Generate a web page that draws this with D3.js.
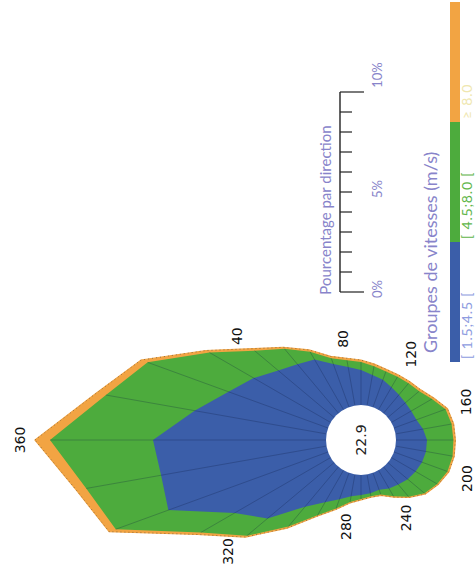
<!DOCTYPE html>
<html>
<head>
<meta charset="utf-8">
<script src="https://cdn.jsdelivr.net/npm/d3@7"></script>
<style>
  html, body { margin: 0; padding: 0; background: #fff; }
  svg { display: block; }
</style>
</head>
<body>
<svg id="chart" width="475" height="569"></svg>
<script>
// Wind rose: share of time (%) per 10° direction sector, stacked by speed group
const directions = [0,10,20,30,40,50,60,70,80,90,100,110,120,130,140,150,160,170,
                    180,190,200,210,220,230,240,250,260,270,280,290,300,310,320,330,340,350];

const speedGroups = ["[ 1.5;4.5 [", "[ 4.5;8.0 [", "≥ 8.0"];

const low = [8.65,6.7,5.3,4.45,3.65,3.2,2.9,2.3,1.95,1.75,1.55,1.45,1.3,1.2,1.15,1.15,1.2,1.4,
             1.55,1.55,1.5,1.4,1.3,1.15,1.05,0.9,0.95,1.0,1.1,1.4,1.85,2.6,4.35,5.55,8.5,8.4];
const mid = [5.15,4.5,4.3,2.55,1.55,1.0,0.45,0.3,0.35,0.4,0.45,0.45,0.6,0.75,0.9,1.2,1.55,1.45,
             1.32,1.35,1.35,1.25,1.1,0.8,0.45,0.25,0.15,0.2,0.3,0.5,0.75,1.3,1.35,1.95,2.8,3.8];
const high = [0.75,0.5,0.35,0.2,0.15,0.1,0.1,0.1,0.1,0.1,0.1,0.1,0.1,0.1,0.1,0.1,0.1,0.1,
              0.1,0.08,0.07,0.05,0.05,0.05,0.05,0.05,0.05,0.05,0.05,0.05,0.05,0.1,0.1,0.2,0.35,0.5];

const calm = 22.9;
const directionLabels = [40, 80, 120, 160, 200, 240, 280, 320, 360];
const scaleTicks = [0,1,2,3,4,5,6,7,8,9,10];
const scaleTickLabels = [0, 5, 10];

const colors = ["#3b5ea9", "#4dab3d", "#f2a443"];
const labelColors = ["#8e9ce0", "#5fb64a", "#efe7b0"];
const textColor = "#8884ca";

// ---------------------------------------------------------------
const W = 475, H = 569;
const svg = d3.select("#chart");
svg.append("rect").attr("width", W).attr("height", H).attr("fill", "#fff");

// the figure is laid out in landscape and turned a quarter turn
const g = svg.append("g").attr("transform", `translate(0,${H}) rotate(-90)`);

const cx = 129, cy = 361;
const hole = 35;
const r = d3.scaleLinear().domain([0, 10]).range([hole, hole + 200]);

// cumulative stacks
const stack = directions.map((d, i) => {
  const a = low[i], b = a + mid[i], c = b + high[i];
  return { dir: d, cum: [a, b, c] };
});

const rose = g.append("g").attr("transform", `translate(${cx},${cy})`);
const rad = d => d * Math.PI / 180;

const line = k => d3.lineRadial()
  .angle(d => rad(d.dir))
  .radius(d => r(d.cum[k]))
  .curve(d3.curveLinearClosed);

// largest layer first so the smaller ones sit on top
[2, 1, 0].forEach(k => {
  rose.append("path")
    .datum(stack)
    .attr("d", line(k))
    .attr("fill", colors[k])
    .attr("stroke", k === 2 ? colors[2] : "none")
    .attr("stroke-width", 1.2)
    .attr("stroke-linejoin", "miter");
});

// dotted outline along the outer edge
rose.append("path")
  .datum(stack)
  .attr("d", line(2))
  .attr("fill", "none")
  .attr("stroke", "#2a2a2a")
  .attr("stroke-width", 0.9)
  .attr("stroke-dasharray", "1,3")
  .attr("opacity", 0.5);

// sector spokes
rose.selectAll("line.spoke")
  .data(stack)
  .join("line")
  .attr("class", "spoke")
  .attr("x1", d => hole * Math.sin(rad(d.dir)))
  .attr("y1", d => -hole * Math.cos(rad(d.dir)))
  .attr("x2", d => r(d.cum[1]) * Math.sin(rad(d.dir)))
  .attr("y2", d => -r(d.cum[1]) * Math.cos(rad(d.dir)))
  .attr("stroke", "#0d1a40")
  .attr("stroke-width", 0.8)
  .attr("opacity", 0.32);

// calm circle
rose.append("circle").attr("r", hole).attr("fill", "#fff");
rose.append("text")
  .attr("text-anchor", "middle")
  .attr("dominant-baseline", "central")
  .attr("font-family", "DejaVu Sans, sans-serif")
  .attr("font-size", 14)
  .attr("fill", "#222")
  .text(calm.toFixed(1));

// direction labels just outside the rose
const totalAt = deg => stack.find(d => d.dir === deg % 360).cum[2];
rose.selectAll("text.dir")
  .data(directionLabels)
  .join("text")
  .attr("class", "dir")
  .attr("text-anchor", "middle")
  .attr("dominant-baseline", "central")
  .attr("font-family", "DejaVu Sans, sans-serif")
  .attr("font-size", 14)
  .attr("fill", "#111")
  .text(d => d)
  .each(function (d) {
    const a = rad(d);
    const ux = Math.sin(a), uy = -Math.cos(a);
    const w = String(d).length * 8.9, h = 10;
    const R = r(totalAt(d)) + 10 + Math.abs(ux) * w / 2 + Math.abs(uy) * h / 2;
    d3.select(this).attr("x", R * ux).attr("y", R * uy);
  });

// percentage scale bar
const s = d3.scaleLinear().domain([0, 10]).range([277, 477]);
const sb = g.append("g");
sb.append("line")
  .attr("x1", s(0)).attr("x2", s(10)).attr("y1", 340).attr("y2", 340)
  .attr("stroke", "#222").attr("stroke-width", 1.4);
sb.selectAll("line.tk")
  .data(scaleTicks)
  .join("line")
  .attr("class", "tk")
  .attr("x1", d => s(d)).attr("x2", d => s(d))
  .attr("y1", 340)
  .attr("y2", d => (d === 0 || d === 10) ? 364 : 352)
  .attr("stroke", "#222").attr("stroke-width", 1.2);
sb.selectAll("text.tl")
  .data(scaleTickLabels)
  .join("text")
  .attr("class", "tl")
  .attr("x", d => s(d) + (d === 10 ? 17 : 3))
  .attr("y", 382)
  .attr("text-anchor", "middle")
  .attr("font-family", "Lato, sans-serif")
  .attr("font-size", 13)
  .attr("fill", textColor)
  .text(d => d + "%");
sb.append("text")
  .attr("x", 359).attr("y", 331)
  .attr("text-anchor", "middle")
  .attr("font-family", "Lato, sans-serif")
  .attr("font-size", 15)
  .attr("fill", textColor)
  .text("Pourcentage par direction");

// speed group legend
const band = d3.scaleBand().domain(speedGroups).range([207, 567]);
const lg = g.append("g");
lg.selectAll("rect")
  .data(speedGroups)
  .join("rect")
  .attr("x", d => band(d))
  .attr("width", band.bandwidth())
  .attr("y", 450)
  .attr("height", 10)
  .attr("fill", (d, i) => colors[i]);
lg.selectAll("text.lab")
  .data(speedGroups)
  .join("text")
  .attr("class", "lab")
  .attr("x", d => band(d) + 3)
  .attr("y", 472)
  .attr("font-family", "Lato, sans-serif")
  .attr("font-size", 14)
  .attr("letter-spacing", 0.8)
  .attr("fill", (d, i) => labelColors[i])
  .text(d => d);
lg.append("text")
  .attr("x", 216).attr("y", 437)
  .attr("font-family", "Lato, sans-serif")
  .attr("font-size", 18)
  .attr("fill", textColor)
  .text("Groupes de vitesses (m/s)");
</script>
</body>
</html>
